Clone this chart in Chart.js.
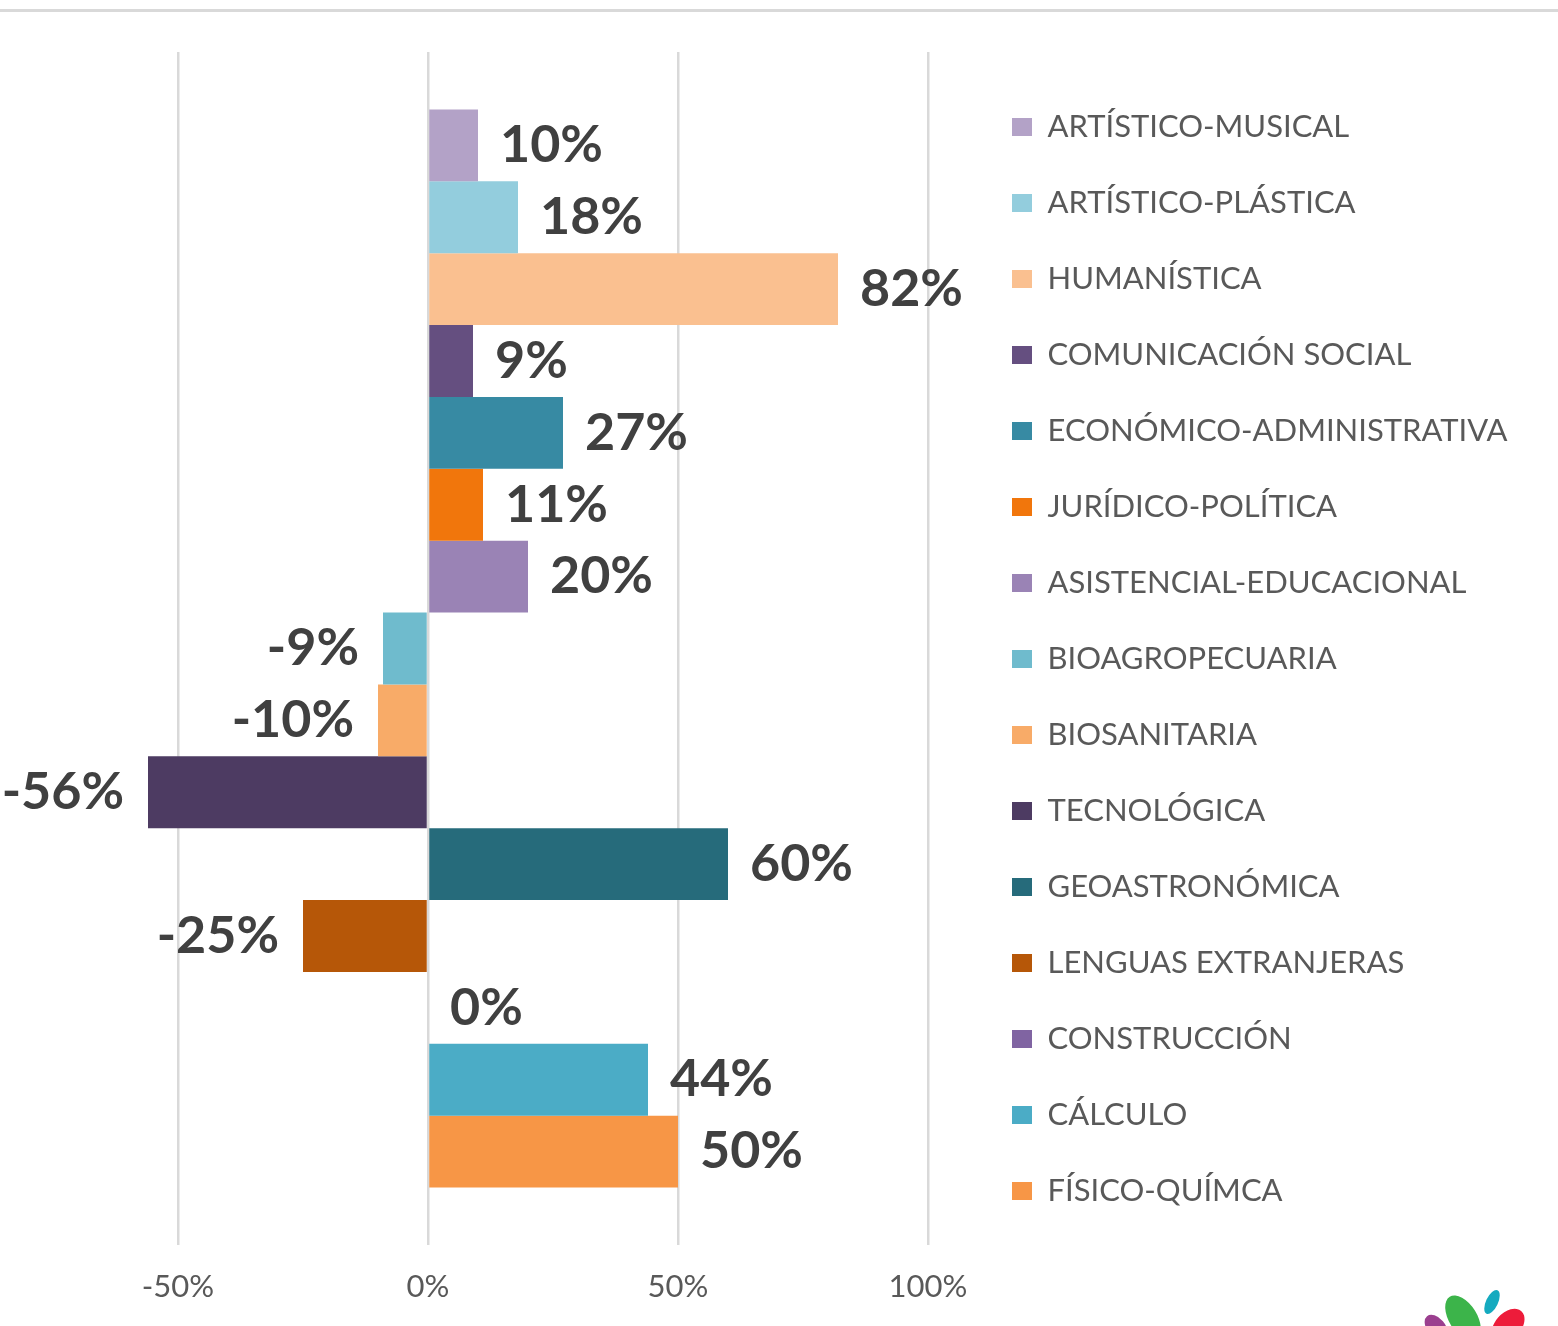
<!DOCTYPE html>
<html>
<head>
<meta charset="utf-8">
<script src="https://cdn.jsdelivr.net/npm/chart.js@4.4.1/dist/chart.umd.min.js"></script>
<style>
    html, body { margin: 0; padding: 0; background: #fff; }
    #wrap { position: relative; width: 1558px; height: 1326px; overflow: hidden; }
    #topline { position: absolute; left: 0; top: 9px; width: 1558px; height: 3px; background: #d9d9d9; }
    #bar-chart { position: absolute; left: 0; top: 0; }
    #logo { position: absolute; left: 1420px; top: 1280px; }
</style>
</head>
<body>
<div id="wrap">
    <div id="topline"></div>
    <canvas id="bar-chart" width="1558" height="1326"></canvas>
    <svg id="logo" width="138" height="46" viewBox="0 0 138 46">
        <ellipse cx="16" cy="47" rx="9" ry="14" transform="rotate(-40 16 47)" fill="#9b3f8f"/>
        <ellipse cx="43" cy="38" rx="14" ry="25" transform="rotate(-32 43 38)" fill="#3cb44a"/>
        <ellipse cx="72" cy="22" rx="6" ry="13" transform="rotate(25 72 22)" fill="#15aabf"/>
        <ellipse cx="88" cy="46" rx="13" ry="20" transform="rotate(42 88 46)" fill="#ed1c3a"/>
    </svg>
</div>
<script>
// Areas (one bar each, top to bottom) and their values in %
const areas = [
    "ARTÍSTICO-MUSICAL",
    "ARTÍSTICO-PLÁSTICA",
    "HUMANÍSTICA",
    "COMUNICACIÓN SOCIAL",
    "ECONÓMICO-ADMINISTRATIVA",
    "JURÍDICO-POLÍTICA",
    "ASISTENCIAL-EDUCACIONAL",
    "BIOAGROPECUARIA",
    "BIOSANITARIA",
    "TECNOLÓGICA",
    "GEOASTRONÓMICA",
    "LENGUAS EXTRANJERAS",
    "CONSTRUCCIÓN",
    "CÁLCULO",
    "FÍSICO-QUÍMCA"
];
const values = [10, 18, 82, 9, 27, 11, 20, -9, -10, -56, 60, -25, 0, 44, 50];
const colors = [
    "#b3a2c7", "#93cddd", "#fac090", "#654f80", "#378aa3",
    "#f1760c", "#9a83b5", "#6fbbcd", "#f8ab68", "#4d3b62",
    "#266b7b", "#b65708", "#8064a2", "#4bacc6", "#f79646"
];
const tickValues = [-50, 0, 50, 100];

// Layout numbers (pixels)
const zeroX = 428;       // where 0% sits
const pxPerPct = 5;      // 50% = 250px
const legendLeft = 967;
const legendFont = { family: "Lato", size: 31 };
const legendPad = 45;
const legendBox = 20;

// Draws the value next to each bar
const barLabels = {
    id: "barLabels",
    afterDatasetsDraw(chart) {
        const ctx = chart.ctx;
        ctx.save();
        ctx.font = "bold 52px Lato";
        ctx.fillStyle = "#404040";
        ctx.textBaseline = "middle";
        chart.data.datasets.forEach((ds, i) => {
            const bar = chart.getDatasetMeta(i).data[0];
            const v = ds.data[0];
            if (v < 0) {
                ctx.textAlign = "right";
                ctx.fillText(v + "%", bar.x - 24, bar.y);
            } else {
                ctx.textAlign = "left";
                ctx.fillText(v + "%", bar.x + 22, bar.y);
            }
        });
        ctx.restore();
    }
};

const ctx1 = document.getElementById("bar-chart").getContext("2d");

const myChart = new Chart(ctx1, {
    type: "bar",
    data: {
        labels: [""],
        datasets: areas.map((a, i) => ({
            label: a,
            data: [values[i]],
            backgroundColor: colors[i],
            borderWidth: 0,
            categoryPercentage: 0.9036,
            barPercentage: 1
        }))
    },
    options: {
        indexAxis: "y",
        responsive: false,
        animation: false,
        devicePixelRatio: 1,
        layout: {
            // negative top/bottom so the legend sits centred where the original has it
            padding: { left: 0, right: 60, top: -11, bottom: -3 }
        },
        scales: {
            x: {
                min: -zeroX / pxPerPct,
                max: (legendLeft - zeroX) / pxPerPct,
                afterBuildTicks: axis => {
                    axis.ticks = tickValues.map(v => ({ value: v }));
                },
                grid: { color: "#d9d9d9", lineWidth: 2.5, drawTicks: false },
                border: { display: false },
                ticks: {
                    color: "#595959",
                    font: { family: "Lato", size: 31, lineHeight: 1.2 },
                    padding: 23.4,
                    maxRotation: 0,
                    autoSkip: false,
                    callback: v => v + "%"
                }
            },
            y: { display: false }
        },
        plugins: {
            title: {
                display: true,
                text: "",
                fullSize: false,
                padding: { top: 53, bottom: 0 },
                font: { size: 10, lineHeight: 1 }
            },
            legend: {
                position: "right",
                align: "center",
                labels: {
                    boxWidth: legendBox,
                    boxHeight: 18,
                    padding: legendPad,
                    color: "#595959",
                    font: legendFont
                }
            },
            tooltip: { enabled: false }
        }
    },
    plugins: [barLabels]
});

// nudge the right padding so the legend (and the end of the plot) land where wanted
const shift = myChart.legend.left - legendLeft;
myChart.options.layout.padding.right += shift;
myChart.update();
</script>
</body>
</html>
